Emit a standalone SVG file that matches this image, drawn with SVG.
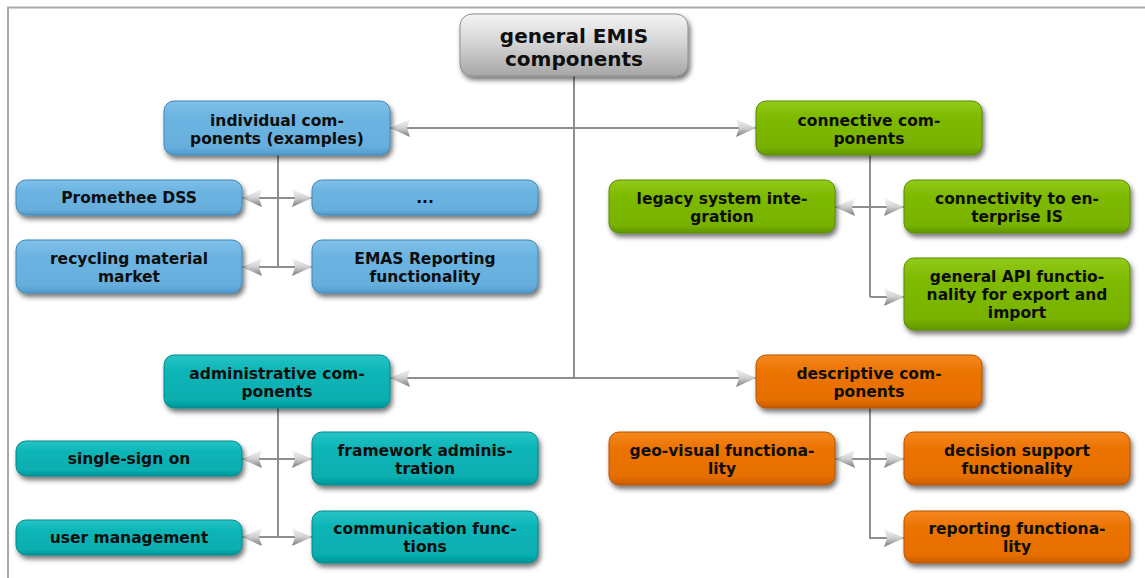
<svg xmlns="http://www.w3.org/2000/svg" width="1145" height="578" viewBox="0 0 1145 578">
  <defs>
    <style>
      .t { font-family: "DejaVu Sans", Verdana, "Liberation Sans", sans-serif; font-weight: bold; font-size: 15.5px; fill: #0e0e0e; text-anchor: middle; }
      .t-root { font-size: 20px; }
      .box { filter: url(#shadow); stroke-width: 1; }
      .gray { fill: url(#gGray); stroke: #8d8d8d; }
      .blue { fill: url(#gBlue); stroke: #3f88b8; }
      .green { fill: url(#gGreen); stroke: #5a8c00; }
      .teal { fill: url(#gTeal); stroke: #008a8c; }
      .orange { fill: url(#gOrange); stroke: #b85400; }
      .link { fill: none; stroke: #8e8e8e; stroke-width: 2; }
      .frame { fill: none; stroke: #a9a9a9; stroke-width: 2; }
    </style>
    <filter id="shadow" x="-10%" y="-20%" width="125%" height="170%">
      <feDropShadow dx="2" dy="3.5" stdDeviation="2.5" flood-color="#000" flood-opacity="0.55"/>
    </filter>
    <linearGradient id="gGray" x1="0" y1="0" x2="0" y2="1">
      <stop offset="0" stop-color="#f4f4f4"/>
      <stop offset="0.5" stop-color="#d2d2d2"/>
      <stop offset="1" stop-color="#a6a6a6"/>
    </linearGradient>
    <linearGradient id="gBlue" x1="0" y1="0" x2="0" y2="1">
      <stop offset="0" stop-color="#80c1ea"/>
      <stop offset="0.3" stop-color="#6cb4e2"/>
      <stop offset="0.85" stop-color="#66aedc"/>
      <stop offset="1" stop-color="#4f9bcd"/>
    </linearGradient>
    <linearGradient id="gGreen" x1="0" y1="0" x2="0" y2="1">
      <stop offset="0" stop-color="#92ca18"/>
      <stop offset="0.3" stop-color="#7eba00"/>
      <stop offset="0.85" stop-color="#78b200"/>
      <stop offset="1" stop-color="#619800"/>
    </linearGradient>
    <linearGradient id="gTeal" x1="0" y1="0" x2="0" y2="1">
      <stop offset="0" stop-color="#28c5c6"/>
      <stop offset="0.3" stop-color="#0cb5b7"/>
      <stop offset="0.85" stop-color="#07aeb0"/>
      <stop offset="1" stop-color="#009396"/>
    </linearGradient>
    <linearGradient id="gOrange" x1="0" y1="0" x2="0" y2="1">
      <stop offset="0" stop-color="#f58820"/>
      <stop offset="0.3" stop-color="#ec7402"/>
      <stop offset="0.85" stop-color="#e56e00"/>
      <stop offset="1" stop-color="#c95d00"/>
    </linearGradient>
    <linearGradient id="gArrow" x1="0" y1="0" x2="0" y2="1">
      <stop offset="0" stop-color="#f6f6f6"/>
      <stop offset="0.5" stop-color="#d0d0d0"/>
      <stop offset="1" stop-color="#7a7a7a"/>
    </linearGradient>
    <marker id="arrowR" markerUnits="userSpaceOnUse" markerWidth="22" markerHeight="20" refX="20" refY="9" orient="0">
      <path d="M0,0 L20,9 L0,18 L3,9 z" fill="url(#gArrow)"/>
    </marker>
    <marker id="arrowL" markerUnits="userSpaceOnUse" markerWidth="22" markerHeight="20" refX="0" refY="9" orient="0">
      <path d="M20,0 L0,9 L20,18 L17,9 z" fill="url(#gArrow)"/>
    </marker>
  </defs>

  <rect width="1145" height="578" fill="#ffffff"/>
  <path class="frame" d="M8,578 V7.5 H1145"/>

  <g id="connectors">
    <path class="link" d="M574,76 V378"/>
    <path class="link" d="M390,128 H756" marker-start="url(#arrowL)" marker-end="url(#arrowR)"/>
    <path class="link" d="M390,378 H756" marker-start="url(#arrowL)" marker-end="url(#arrowR)"/>

    <path class="link" d="M278,155 V268"/>
    <path class="link" d="M242,198 H312" marker-start="url(#arrowL)" marker-end="url(#arrowR)"/>
    <path class="link" d="M242,267 H312" marker-start="url(#arrowL)" marker-end="url(#arrowR)"/>

    <path class="link" d="M870,155 V297"/>
    <path class="link" d="M835,207 H904" marker-start="url(#arrowL)" marker-end="url(#arrowR)"/>
    <path class="link" d="M870,297 H904" marker-end="url(#arrowR)"/>

    <path class="link" d="M278,408 V537"/>
    <path class="link" d="M242,459 H312" marker-start="url(#arrowL)" marker-end="url(#arrowR)"/>
    <path class="link" d="M242,537 H312" marker-start="url(#arrowL)" marker-end="url(#arrowR)"/>

    <path class="link" d="M870,408 V539"/>
    <path class="link" d="M835,459 H904" marker-start="url(#arrowL)" marker-end="url(#arrowR)"/>
    <path class="link" d="M870,538 H904" marker-end="url(#arrowR)"/>
  </g>

  <g id="root">
    <rect class="box gray" x="460" y="14" width="228" height="62" rx="12"/>
    <text class="t t-root" x="574" y="43">general EMIS</text>
    <text class="t t-root" x="574" y="66">components</text>
  </g>

  <g id="individual">
    <rect class="box blue" x="164" y="101" width="226" height="54" rx="10"/>
    <text class="t" x="277" y="126">individual com-</text>
    <text class="t" x="277" y="144">ponents (examples)</text>
  </g>
  <g id="promethee">
    <rect class="box blue" x="16" y="180" width="226" height="35" rx="10"/>
    <text class="t" x="129" y="203">Promethee DSS</text>
  </g>
  <g id="more">
    <rect class="box blue" x="312" y="180" width="226" height="35" rx="10"/>
    <text class="t" x="425" y="203">...</text>
  </g>
  <g id="recycling">
    <rect class="box blue" x="16" y="240" width="226" height="53" rx="10"/>
    <text class="t" x="129" y="264">recycling material</text>
    <text class="t" x="129" y="282">market</text>
  </g>
  <g id="emas">
    <rect class="box blue" x="312" y="240" width="226" height="53" rx="10"/>
    <text class="t" x="425" y="264">EMAS Reporting</text>
    <text class="t" x="425" y="282">functionality</text>
  </g>

  <g id="connective">
    <rect class="box green" x="756" y="101" width="226" height="54" rx="10"/>
    <text class="t" x="869" y="126">connective com-</text>
    <text class="t" x="869" y="144">ponents</text>
  </g>
  <g id="legacy">
    <rect class="box green" x="609" y="180" width="226" height="53" rx="10"/>
    <text class="t" x="722" y="204">legacy system inte-</text>
    <text class="t" x="722" y="222">gration</text>
  </g>
  <g id="connectivity">
    <rect class="box green" x="904" y="180" width="226" height="53" rx="10"/>
    <text class="t" x="1017" y="204">connectivity to en-</text>
    <text class="t" x="1017" y="222">terprise IS</text>
  </g>
  <g id="api">
    <rect class="box green" x="904" y="258" width="226" height="72" rx="10"/>
    <text class="t" x="1017" y="282">general API functio-</text>
    <text class="t" x="1017" y="300">nality for export and</text>
    <text class="t" x="1017" y="318">import</text>
  </g>

  <g id="administrative">
    <rect class="box teal" x="164" y="355" width="226" height="53" rx="10"/>
    <text class="t" x="277" y="379">administrative com-</text>
    <text class="t" x="277" y="397">ponents</text>
  </g>
  <g id="sso">
    <rect class="box teal" x="16" y="441" width="226" height="35" rx="10"/>
    <text class="t" x="129" y="464">single-sign on</text>
  </g>
  <g id="framework">
    <rect class="box teal" x="312" y="432" width="226" height="53" rx="10"/>
    <text class="t" x="425" y="456">framework adminis-</text>
    <text class="t" x="425" y="474">tration</text>
  </g>
  <g id="usermgmt">
    <rect class="box teal" x="16" y="520" width="226" height="35" rx="10"/>
    <text class="t" x="129" y="543">user management</text>
  </g>
  <g id="communication">
    <rect class="box teal" x="312" y="511" width="226" height="52" rx="10"/>
    <text class="t" x="425" y="534">communication func-</text>
    <text class="t" x="425" y="552">tions</text>
  </g>

  <g id="descriptive">
    <rect class="box orange" x="756" y="355" width="226" height="53" rx="10"/>
    <text class="t" x="869" y="379">descriptive com-</text>
    <text class="t" x="869" y="397">ponents</text>
  </g>
  <g id="geovisual">
    <rect class="box orange" x="609" y="432" width="226" height="53" rx="10"/>
    <text class="t" x="722" y="456">geo-visual functiona-</text>
    <text class="t" x="722" y="474">lity</text>
  </g>
  <g id="decision">
    <rect class="box orange" x="904" y="432" width="226" height="53" rx="10"/>
    <text class="t" x="1017" y="456">decision support</text>
    <text class="t" x="1017" y="474">functionality</text>
  </g>
  <g id="reporting">
    <rect class="box orange" x="904" y="511" width="226" height="52" rx="10"/>
    <text class="t" x="1017" y="534">reporting functiona-</text>
    <text class="t" x="1017" y="552">lity</text>
  </g>
</svg>
